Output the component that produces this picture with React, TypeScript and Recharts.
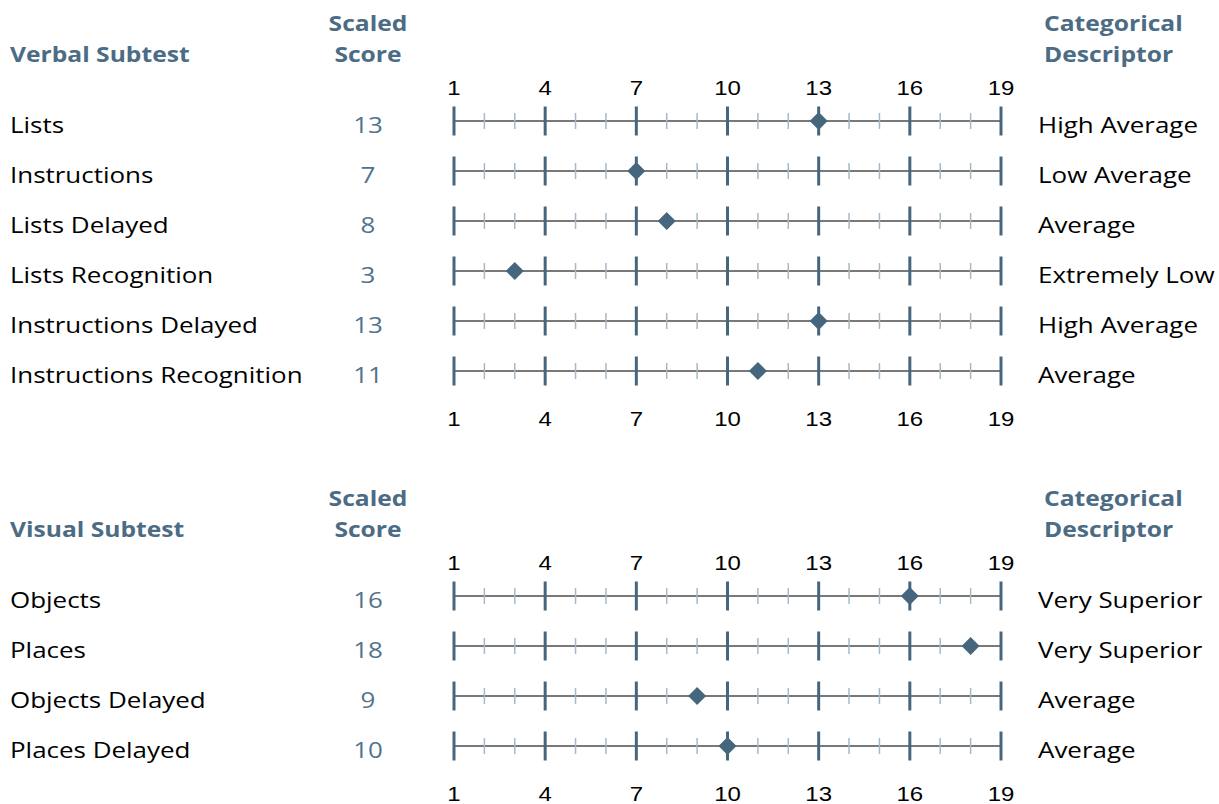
import React from 'react';
import { ScatterChart, Scatter, XAxis, YAxis } from 'recharts';

const verbalSubtests = ['Lists', 'Instructions', 'Lists Delayed', 'Lists Recognition', 'Instructions Delayed', 'Instructions Recognition'];
const verbalScores = [13, 7, 8, 3, 13, 11];
const verbalDescriptors = ['High Average', 'Low Average', 'Average', 'Extremely Low', 'High Average', 'Average'];

const visualSubtests = ['Objects', 'Places', 'Objects Delayed', 'Places Delayed'];
const visualScores = [16, 18, 9, 10];
const visualDescriptors = ['Very Superior', 'Very Superior', 'Average', 'Average'];

const scaleValues = [1, 2, 3, 4, 5, 6, 7, 8, 9, 10, 11, 12, 13, 14, 15, 16, 17, 18, 19];
const majorTicks = [1, 4, 7, 10, 13, 16, 19];

const HEADER_COLOR = '#4b6c84';
const SCORE_COLOR = '#52738d';
const MAJOR_COLOR = '#46667e';
const MINOR_COLOR = '#a8b8c5';
const LINE_COLOR = '#4d4d4d';
const TEXT_FONT = '"Open Sans", sans-serif';
const NUM_FONT = '"Liberation Sans", Arial, sans-serif';

const WIDTH = 1219;
const PLOT_TOP = 96;
const ROW_H = 50;
const TOP_AXIS_H = 20;
const BOTTOM_SPACE = 34;
const PLOT_LEFT = 454;
const PLOT_RIGHT_MARGIN = 218;

function SText({ x, y, sx = 1, anchor = 'start', size = 22, weight = 400, fill = '#000', font = TEXT_FONT, children }: any) {
  return (
    <text
      transform={`translate(${x},${y}) scale(${sx},1)`}
      x={0}
      y={0}
      textAnchor={anchor}
      fontSize={size}
      fontWeight={weight}
      fill={fill}
      fontFamily={font}
    >
      {children}
    </text>
  );
}

function Section({ top, title, subtests, scores, descriptors }: any) {
  const n = subtests.length;
  const plotBottom = PLOT_TOP + n * ROW_H;
  const height = plotBottom + BOTTOM_SPACE;
  const rowIdx = subtests.map((_: string, i: number) => i);
  const scoreData = scores.map((s: number, i: number) => ({ x: s, y: i }));

  const RowTick = (props: any) => {
    const i = props.payload.value;
    const y = props.y;
    return (
      <g>
        <SText x={10} y={y + 12} sx={1.18}>{subtests[i]}</SText>
        <SText x={368} y={y + 12} sx={1.18} anchor="middle" fill={SCORE_COLOR}>{scores[i]}</SText>
        <SText x={1038} y={y + 12} sx={1.18}>{descriptors[i]}</SText>
      </g>
    );
  };
  const ScaleTick = (props: any) => (
    <g>
      <SText x={props.x} y={PLOT_TOP - 1.5} sx={1.2} anchor="middle" size={20} font={NUM_FONT}>{props.payload.value}</SText>
      <SText x={props.x} y={plotBottom + 29.5} sx={1.2} anchor="middle" size={20} font={NUM_FONT}>{props.payload.value}</SText>
    </g>
  );

  const tickShape = (props: any) => {
    const { cx, cy, payload } = props;
    const major = majorTicks.includes(payload.x);
    return major ? (
      <line x1={cx} x2={cx} y1={cy - 14.5} y2={cy + 14.5} stroke={MAJOR_COLOR} strokeWidth={3} />
    ) : (
      <line x1={cx} x2={cx} y1={cy - 8} y2={cy + 8} stroke={MINOR_COLOR} strokeWidth={1.5} />
    );
  };
  const diamond = (props: any) => {
    const { cx, cy } = props;
    const r = 9;
    return <polygon points={`${cx},${cy - r} ${cx + r},${cy} ${cx},${cy + r} ${cx - r},${cy}`} fill={MAJOR_COLOR} />;
  };

  return (
    <div style={{ position: 'absolute', left: 0, top, width: WIDTH, height }}>
      <svg width={WIDTH} height={70} style={{ position: 'absolute', left: 0, top: 0 }}>
        <SText x={10} y={62} sx={1.12} weight={700} fill={HEADER_COLOR}>{title}</SText>
        <SText x={368} y={31} sx={1.12} anchor="middle" weight={700} fill={HEADER_COLOR}>Scaled</SText>
        <SText x={368} y={62} sx={1.12} anchor="middle" weight={700} fill={HEADER_COLOR}>Score</SText>
        <SText x={1044} y={31} sx={1.12} weight={700} fill={HEADER_COLOR}>Categorical</SText>
        <SText x={1044} y={62} sx={1.12} weight={700} fill={HEADER_COLOR}>Descriptor</SText>
      </svg>
      <div style={{ position: 'absolute', left: 0, top: 0 }}>
        <ScatterChart
          width={WIDTH}
          height={height}
          margin={{ top: PLOT_TOP - TOP_AXIS_H, right: PLOT_RIGHT_MARGIN, bottom: BOTTOM_SPACE, left: 0 }}
        >
          <XAxis
            xAxisId="top"
            orientation="top"
            type="number"
            dataKey="x"
            domain={[1, 19]}
            ticks={majorTicks}
            interval={0}
            height={TOP_AXIS_H}
            axisLine={false}
            tickLine={false}
            tickSize={0}
            tick={ScaleTick}
          />
          <YAxis
            yAxisId="left"
            orientation="left"
            type="number"
            dataKey="y"
            domain={[-0.5, n - 0.5]}
            reversed
            ticks={rowIdx}
            interval={0}
            width={PLOT_LEFT}
            axisLine={false}
            tickLine={false}
            tick={RowTick}
          />
          {rowIdx.map((i: number) => (
            <Scatter
              key={`row-${i}`}
              xAxisId="top"
              yAxisId="left"
              data={scaleValues.map((v) => ({ x: v, y: i }))}
              line={{ stroke: LINE_COLOR, strokeWidth: 1.5 }}
              shape={tickShape}
              isAnimationActive={false}
            />
          ))}
          <Scatter
            xAxisId="top"
            yAxisId="left"
            data={scoreData}
            shape={diamond}
            isAnimationActive={false}
          />
        </ScatterChart>
      </div>
    </div>
  );
}

export default function App() {
  return (
    <div style={{ position: 'absolute', left: 0, top: 0, width: WIDTH, height: 804, overflow: 'hidden', background: '#fff' }}>
      <Section top={0} title="Verbal Subtest" subtests={verbalSubtests} scores={verbalScores} descriptors={verbalDescriptors} />
      <Section top={475} title="Visual Subtest" subtests={visualSubtests} scores={visualScores} descriptors={visualDescriptors} />
    </div>
  );
}
